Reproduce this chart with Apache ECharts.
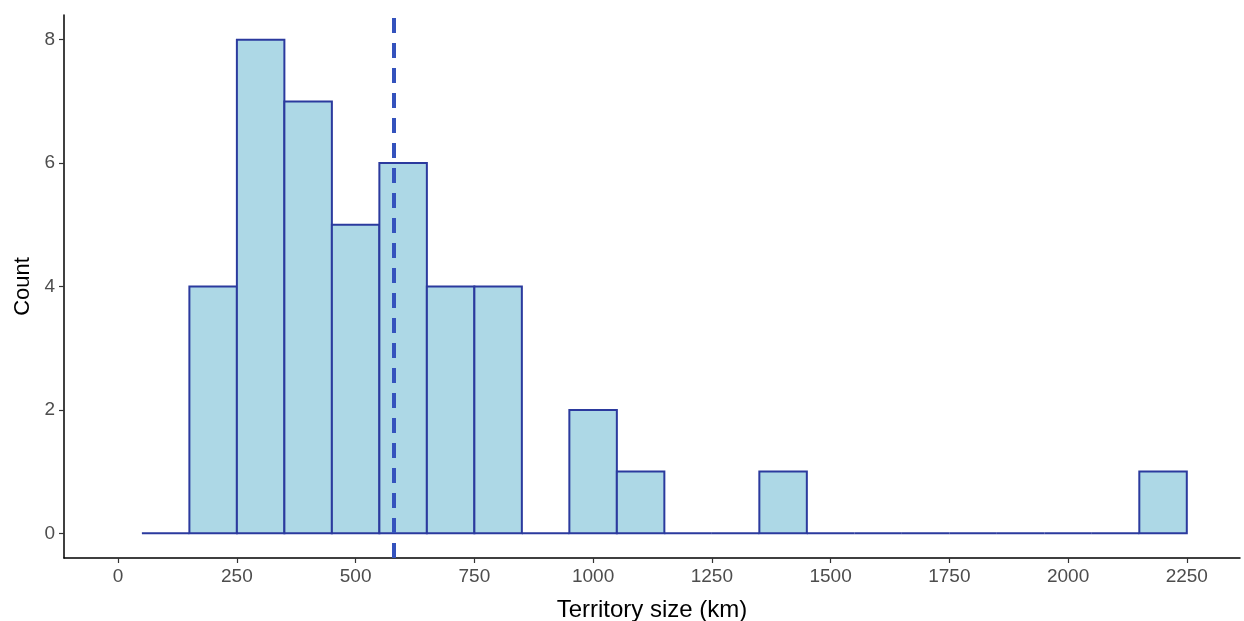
<!DOCTYPE html>
<html>
<head>
<meta charset="utf-8">
<script src="https://cdn.jsdelivr.net/npm/echarts@6/dist/echarts.min.js"></script>
<style>
html,body{margin:0;padding:0;background:#fff;}
#chart{width:1244px;height:621px;}
</style>
</head>
<body>
<div id="chart"></div>
<script>
const binStarts = [50,150,250,350,450,550,650,750,850,950,1050,1150,1250,1350,1450,1550,1650,1750,1850,1950,2050,2150];
const counts    = [0, 4,  8,  7,  5,  6,  4,  4,  0,  2,  1,   0,   0,   1,   0,   0,   0,   0,   0,   0,   0,   1];
const binWidth = 100;
const meanValue = 580;
const xTicks = [0,250,500,750,1000,1250,1500,1750,2000,2250];
const yTicks = [0,2,4,6,8];

const chart = echarts.init(document.getElementById('chart'));
const data = binStarts.map((s,i)=>[s, s+binWidth, counts[i]]);
const font = 'Liberation Sans, Arial, sans-serif';

chart.setOption({
  animation:false,
  backgroundColor:'#ffffff',
  grid:{left:64,right:4,top:15,bottom:63,outerBoundsMode:'none',containLabel:false},
  xAxis:{
    type:'value', min:-114, max:2362,
    name:'Territory size (km)', nameLocation:'middle', nameGap:40,
    nameTextStyle:{color:'#000',fontSize:24,fontFamily:font},
    axisLine:{show:true,onZero:false,lineStyle:{color:'#000',width:1.5}},
    axisTick:{show:true,length:5,lineStyle:{color:'#333',width:1.2},customValues:xTicks},
    axisLabel:{color:'#4d4d4d',fontSize:19,margin:9,fontFamily:font,customValues:xTicks,formatter:v=>String(v)},
    splitLine:{show:false}
  },
  yAxis:{
    type:'value', min:-0.4, max:8.4,
    name:'Count', nameLocation:'middle', nameGap:27, nameRotate:90,
    nameTextStyle:{color:'#000',fontSize:22,fontFamily:font},
    axisLine:{show:true,onZero:false,lineStyle:{color:'#000',width:1.5}},
    axisTick:{show:true,length:5,lineStyle:{color:'#333',width:1.2},customValues:yTicks},
    axisLabel:{color:'#4d4d4d',fontSize:19,margin:9,fontFamily:font,customValues:yTicks,formatter:v=>String(v)},
    splitLine:{show:false}
  },
  series:[{
    type:'custom',
    data:data,
    encode:{x:[0,1],y:2},
    renderItem:function(params,api){
      const p0 = api.coord([api.value(0), api.value(2)]);
      const p1 = api.coord([api.value(1), 0]);
      return {
        type:'rect',
        shape:{x:p0[0], y:p0[1], width:p1[0]-p0[0], height:p1[1]-p0[1]},
        style:{fill:'#ADD8E6', stroke:'#2b3a9e', lineWidth:2}
      };
    },
    markLine:{
      silent:true, symbol:'none', label:{show:false},
      lineStyle:{color:'#3452bd', width:4, type:[15,10]},
      data:[{xAxis:meanValue}]
    }
  }]
});
</script>
</body>
</html>
